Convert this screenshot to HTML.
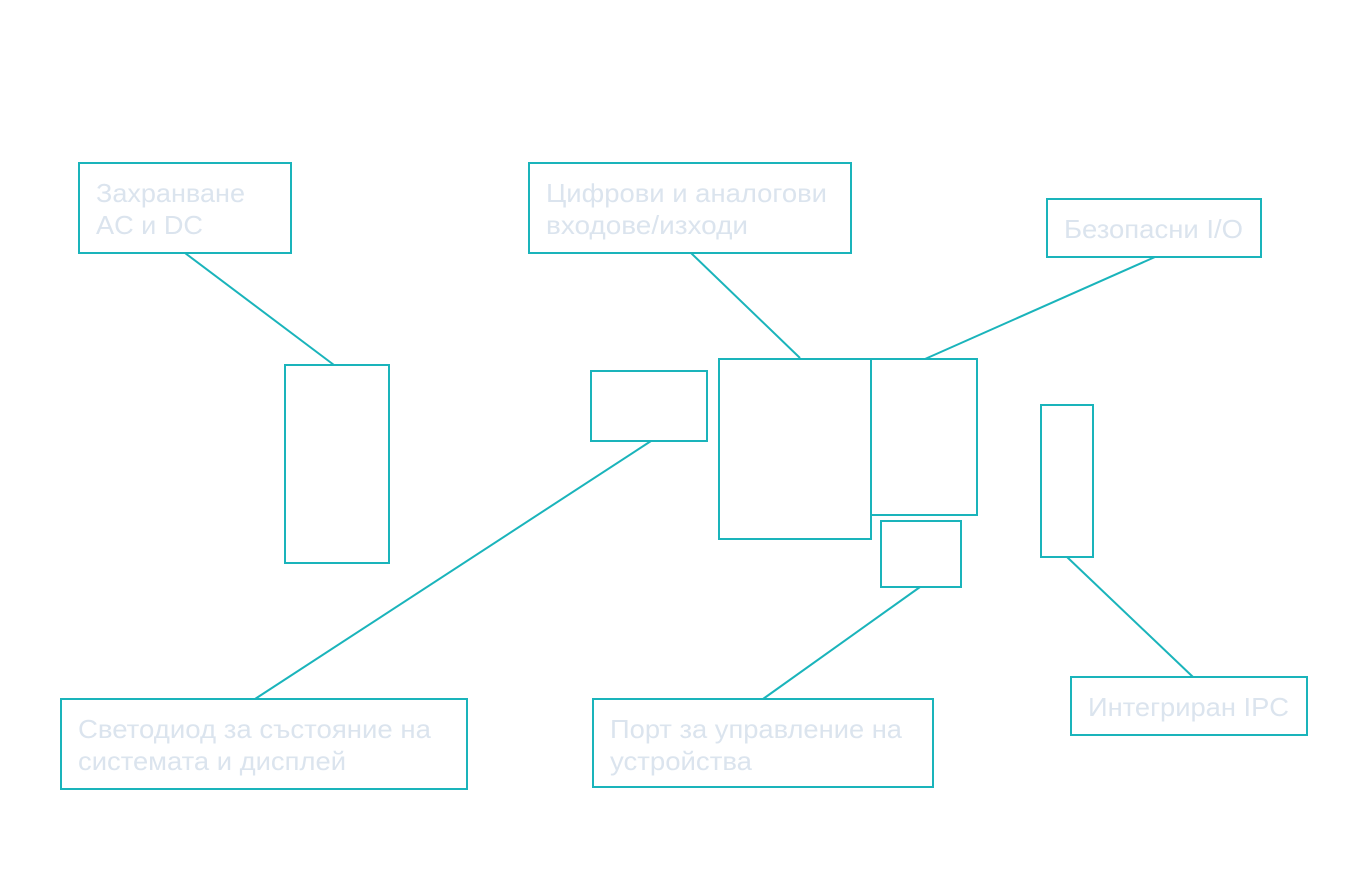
<!DOCTYPE html>
<html><head><meta charset="utf-8"><style>
html,body{margin:0;padding:0;background:#fff;}
svg{display:block;}
text{font-family:"Liberation Sans","DejaVu Sans",sans-serif;font-size:26px;fill:#dbe4ee;}
</style></head><body>
<svg width="1360" height="870" viewBox="0 0 1360 870" xmlns="http://www.w3.org/2000/svg">
<g fill="none" stroke="#1ab4bb" stroke-width="2">
<!-- connectors -->
<line x1="185" y1="253" x2="334" y2="365"/>
<line x1="691" y1="253" x2="800" y2="358"/>
<line x1="1155" y1="257" x2="925" y2="359"/>
<line x1="651" y1="441" x2="255" y2="699"/>
<line x1="920" y1="587" x2="763" y2="699"/>
<line x1="1067" y1="557" x2="1193" y2="677"/>
<!-- label boxes -->
<rect x="79" y="163" width="212" height="90"/>
<rect x="529" y="163" width="322" height="90"/>
<rect x="1047" y="199" width="214" height="58"/>
<rect x="61" y="699" width="406" height="90"/>
<rect x="593" y="699" width="340" height="88"/>
<rect x="1071" y="677" width="236" height="58"/>
<!-- component boxes -->
<rect x="285" y="365" width="104" height="198"/>
<rect x="591" y="371" width="116" height="70"/>
<rect x="719" y="359" width="152" height="180"/>
<rect x="871" y="359" width="106" height="156"/>
<rect x="881" y="521" width="80" height="66"/>
<rect x="1041" y="405" width="52" height="152"/>
</g>
<text x="96" y="202" textLength="149" lengthAdjust="spacingAndGlyphs">Захранване</text>
<text x="96" y="234" textLength="107" lengthAdjust="spacingAndGlyphs">AC и DC</text>
<text x="546" y="202" textLength="281" lengthAdjust="spacingAndGlyphs">Цифрови и аналогови</text>
<text x="546" y="234" textLength="202" lengthAdjust="spacingAndGlyphs">входове/изходи</text>
<text x="1064" y="238" textLength="179" lengthAdjust="spacingAndGlyphs">Безопасни I/O</text>
<text x="1088" y="716" textLength="201" lengthAdjust="spacingAndGlyphs">Интегриран IPC</text>
<text x="78" y="738" textLength="353" lengthAdjust="spacingAndGlyphs">Светодиод за състояние на</text>
<text x="78" y="770" textLength="268" lengthAdjust="spacingAndGlyphs">системата и дисплей</text>
<text x="610" y="738" textLength="292" lengthAdjust="spacingAndGlyphs">Порт за управление на</text>
<text x="610" y="770" textLength="142" lengthAdjust="spacingAndGlyphs">устройства</text>
</svg>
</body></html>
